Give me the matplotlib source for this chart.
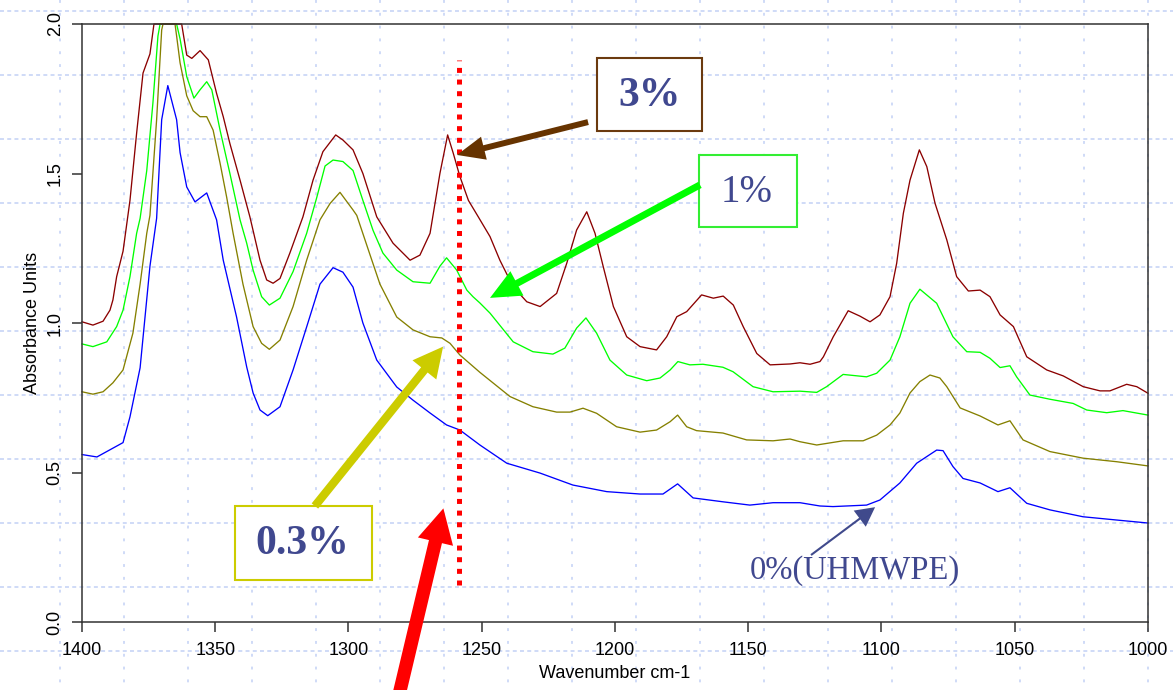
import matplotlib
matplotlib.use("Agg")
import matplotlib.pyplot as plt
from matplotlib.patches import Rectangle, FancyArrowPatch
import numpy as np

# ---------------- spectra (wavenumber cm-1, absorbance) ----------------
wn_0 = [1400, 1394.4, 1384.6, 1382.0, 1378.2, 1374.5, 1372.0, 1370.1, 1367.8,
        1364.5, 1363.2, 1360.7, 1357.6, 1353.2, 1349.5, 1347.0, 1342.0, 1338.2,
        1335.8, 1333.2, 1330.3, 1325.7, 1320.8, 1315.7, 1310.7, 1305.8, 1302.1,
        1298.3, 1294.6, 1289.4, 1281.9, 1275.8, 1269.4, 1263.2, 1258.2, 1250.7,
        1240.6, 1228.1, 1215.8, 1203.1, 1190.6, 1182.0, 1176.5, 1170.7, 1159.5,
        1149.4, 1140.7, 1130.6, 1123.1, 1118.2, 1105.6, 1100.6, 1093.1, 1086.8,
        1079.3, 1076.9, 1073.2, 1069.4, 1063.0, 1056.3, 1051.8, 1045.5, 1036.8,
        1024.4, 1011.7, 1000]
abs_0 = [0.56, 0.552, 0.60, 0.686, 0.85, 1.19, 1.35, 1.68, 1.794,
         1.68, 1.57, 1.455, 1.405, 1.435, 1.345, 1.21, 1.02, 0.853,
         0.766, 0.709, 0.69, 0.72, 0.843, 0.987, 1.13, 1.185, 1.17,
         1.12, 1.0, 0.876, 0.786, 0.742, 0.699, 0.659, 0.642, 0.592,
         0.531, 0.498, 0.458, 0.436, 0.428, 0.428, 0.462, 0.415, 0.402,
         0.391, 0.399, 0.399, 0.388, 0.386, 0.391, 0.408, 0.465, 0.531,
         0.575, 0.573, 0.52, 0.48, 0.465, 0.436, 0.449, 0.397, 0.375,
         0.352, 0.341, 0.331]

wn_03 = [1400, 1395.9, 1392.1, 1388.4, 1384.6, 1380.9, 1378.2, 1375.7, 1374.5,
         1372.0, 1370.1, 1369.6, 1365.1, 1364.5, 1363.2, 1360.7, 1358.3, 1355.7,
         1353.2, 1350.8, 1348.2, 1345.7, 1343.3, 1339.6, 1335.8, 1332.6, 1329.7,
         1325.7, 1320.8, 1315.7, 1310.7, 1306.9, 1303.2, 1298.3, 1296.9, 1292.0,
         1288.2, 1281.9, 1275.8, 1269.4, 1265.0, 1261.9, 1258.2, 1250.7, 1239.4,
         1230.8, 1221.9, 1216.9, 1212.0, 1206.9, 1199.4, 1190.6, 1184.4, 1179.3,
         1176.5, 1173.1, 1169.4, 1159.5, 1150.6, 1140.7, 1134.3, 1130.6, 1124.3,
         1114.4, 1106.9, 1101.8, 1096.8, 1093.1, 1089.3, 1085.6, 1081.8, 1078.1,
         1075.5, 1070.5, 1063.0, 1056.3, 1051.8, 1046.9, 1036.8, 1024.4, 1011.7,
         1000]
abs_03 = [0.77, 0.762, 0.77, 0.80, 0.843, 0.966, 1.13, 1.30, 1.36,
          1.68, 1.98, 2.0, 2.0, 1.96, 1.87, 1.76, 1.71, 1.69,
          1.69, 1.645, 1.535, 1.42, 1.30, 1.13, 0.988, 0.932, 0.912,
          0.943, 1.055, 1.21, 1.345, 1.40, 1.437, 1.378, 1.36, 1.23,
          1.13, 1.02, 0.977, 0.954, 0.95, 0.932, 0.893, 0.835, 0.754,
          0.72, 0.702, 0.702, 0.715, 0.698, 0.653, 0.635, 0.642, 0.67,
          0.692, 0.653, 0.64, 0.632, 0.609, 0.606, 0.612, 0.603, 0.592,
          0.606, 0.606, 0.625, 0.659, 0.699, 0.766, 0.804, 0.826, 0.816,
          0.787, 0.716, 0.689, 0.659, 0.673, 0.609, 0.57, 0.548, 0.536,
          0.522]

wn_1 = [1400, 1395.9, 1390.7, 1387.0, 1384.6, 1382.0, 1379.5, 1378.2, 1375.7,
        1373.4, 1371.5, 1370.7, 1364.5, 1363.2, 1360.7, 1358.0, 1355.7, 1353.2,
        1351.3, 1348.2, 1344.5, 1340.7, 1338.2, 1335.8, 1332.6, 1329.7, 1325.7,
        1320.8, 1315.7, 1311.9, 1308.8, 1305.8, 1302.1, 1298.3, 1294.6,
        1290.8, 1287.1, 1281.9, 1275.8, 1269.4, 1265.7, 1263.2, 1259.4, 1255.6,
        1253.3, 1250.7, 1246.9, 1238.2, 1230.8, 1223.3, 1218.8, 1214.4, 1210.9,
        1206.9, 1201.9, 1195.6, 1188.1, 1183.1, 1179.3, 1176.4, 1171.9, 1167.0,
        1159.5, 1155.7, 1148.2, 1140.7, 1130.6, 1124.3, 1120.6, 1114.4, 1105.6,
        1101.8, 1096.8, 1093.1, 1089.3, 1085.6, 1079.3, 1073.2, 1068.0, 1063.0,
        1059.3, 1055.5, 1051.8, 1049.3, 1044.3, 1036.8, 1028.1, 1023.0, 1015.5,
        1009.4, 1000]
abs_1 = [0.93, 0.921, 0.937, 0.988, 1.043, 1.155, 1.30, 1.35, 1.51,
         1.735, 1.96, 2.0, 2.0, 1.95, 1.824, 1.752, 1.78, 1.807,
         1.78, 1.645, 1.50, 1.345, 1.267, 1.177, 1.088, 1.06, 1.083,
         1.172, 1.30, 1.42, 1.525, 1.545, 1.54, 1.51, 1.41,
         1.31, 1.234, 1.177, 1.138, 1.133, 1.19, 1.218, 1.177, 1.11,
         1.088, 1.067, 1.033, 0.937, 0.904, 0.896, 0.916, 0.983, 1.017,
         0.966, 0.876, 0.826, 0.807, 0.816, 0.843, 0.871, 0.86, 0.862,
         0.852, 0.837, 0.787, 0.77, 0.772, 0.768, 0.787, 0.828, 0.82,
         0.832, 0.876, 0.954, 1.066, 1.113, 1.066, 0.954, 0.904, 0.902,
         0.882, 0.851, 0.857, 0.82, 0.759, 0.745, 0.731, 0.709, 0.70,
         0.707, 0.692]

wn_3 = [1400, 1395.9, 1392.1, 1389.5, 1388.4, 1387.0, 1384.6, 1382.0, 1379.5,
        1377.1, 1374.5, 1373.0, 1362.6, 1360.7, 1358.8, 1355.7, 1352.6, 1349.5,
        1347.0, 1344.5, 1340.7, 1337.0, 1333.2, 1330.7, 1328.3, 1325.7, 1322.0,
        1317.1, 1313.3, 1309.6, 1304.8, 1302.1, 1298.3, 1294.6, 1289.4, 1283.3,
        1276.9, 1273.2, 1269.4, 1265.7, 1262.8, 1260.7, 1258.2, 1255.0, 1251.3,
        1246.9, 1243.2, 1238.2, 1233.1, 1228.1, 1221.9, 1218.1, 1214.4, 1210.6,
        1207.5, 1204.4, 1200.6, 1195.6, 1190.6, 1184.4, 1180.6, 1176.8, 1173.1,
        1167.5, 1163.1, 1159.4, 1155.6, 1151.9, 1146.8, 1141.8, 1134.3, 1130.6,
        1126.8, 1123.1, 1121.8, 1118.1, 1112.5, 1108.1, 1104.3, 1100.6, 1096.8,
        1094.3, 1091.8, 1089.3, 1085.8, 1083.0, 1079.9, 1075.5, 1071.8, 1067.4,
        1063.0, 1059.3, 1055.5, 1050.5, 1045.5, 1038.0, 1031.8, 1024.3, 1018.0,
        1014.3, 1008.0, 1004.2, 1000]
abs_3 = [1.004, 0.993, 1.006, 1.043, 1.077, 1.155, 1.24, 1.41, 1.635,
         1.836, 1.90, 2.0, 2.0, 1.896, 1.885, 1.911, 1.88, 1.768,
         1.69, 1.60, 1.478, 1.355, 1.21, 1.144, 1.133, 1.149, 1.234,
         1.355, 1.478, 1.573, 1.629, 1.612, 1.579, 1.50, 1.355, 1.267,
         1.21, 1.227, 1.30, 1.50, 1.629, 1.568, 1.49, 1.41, 1.355,
         1.289, 1.21, 1.121, 1.071, 1.055, 1.099, 1.20, 1.311, 1.372,
         1.30, 1.188, 1.055, 0.954, 0.921, 0.91, 0.954, 1.021, 1.038,
         1.094, 1.083, 1.09, 1.06, 0.988, 0.898, 0.86, 0.863, 0.867,
         0.862, 0.871, 0.887, 0.954, 1.041, 1.023, 1.004, 1.027, 1.088,
         1.20, 1.367, 1.478, 1.579, 1.523, 1.40, 1.278, 1.155, 1.107,
         1.11, 1.088, 1.027, 0.988, 0.887, 0.843, 0.823, 0.787, 0.773,
         0.773, 0.795, 0.787, 0.765]

x_ticks = [1400, 1350, 1300, 1250, 1200, 1150, 1100, 1050, 1000]
y_ticks = [0.0, 0.5, 1.0, 1.5, 2.0]
marker_wn = 1258.7

W, H = 1173, 690
fig = plt.figure(figsize=(W / 100, H / 100), dpi=100)
fig.patch.set_facecolor("white")

# dotted layout grid behind everything
bg = fig.add_axes([0, 0, 1, 1], zorder=0)
bg.set_xlim(0, W)
bg.set_ylim(H, 0)
bg.axis("off")
grid_c = "#CCD8F7"
for gx in np.arange(60, W, 64):
    bg.plot([gx, gx], [0, H], color=grid_c, lw=1.3, linestyle=(0, (1.6, 5.5)),
            solid_capstyle="butt")
for gy in np.arange(11, H, 64):
    bg.plot([0, W], [gy, gy], color=grid_c, lw=1.3, linestyle=(0, (2.2, 1.8)),
            solid_capstyle="butt")

ax = fig.add_axes([82 / W, 1 - 622 / H, (1148 - 82) / W, (622 - 24) / H], zorder=1)
ax.patch.set_alpha(0)
ax.set_xlim(1400, 1000)
ax.set_ylim(0, 2.0)

line_kw = dict(lw=0.95, clip_on=False, solid_joinstyle="round")
ax.plot(wn_0, abs_0, color="#0000FF", **line_kw)
ax.plot(wn_03, abs_03, color="#858000", **line_kw)
ax.plot(wn_1, abs_1, color="#00FF00", **line_kw)
ax.plot(wn_3, abs_3, color="#8B0000", **line_kw)

for s in ax.spines.values():
    s.set_color("#333333")
    s.set_linewidth(1.1)

sans = "Liberation Sans"
ax.set_xticks(x_ticks)
ax.set_xticklabels([str(v) for v in x_ticks], family=sans, fontsize=13)
ax.set_yticks(y_ticks)
ax.set_yticklabels([f"{v:.1f}" for v in y_ticks], family=sans, fontsize=13,
                   rotation=90, va="center")
ax.tick_params(axis="x", direction="out", length=7.2, width=1.1, pad=7.5,
               color="#333333")
ax.tick_params(axis="y", direction="out", length=7.2, width=1.1, pad=6,
               color="#333333")
ax.set_xlabel("Wavenumber cm-1", family=sans, fontsize=13, labelpad=4)
ax.set_ylabel("Absorbance Units", family=sans, fontsize=13, labelpad=4)

# marker line
ax.plot([marker_wn, marker_wn], [0.124, 1.880], color="#FF0000", lw=3.6,
        linestyle=(0, (1.0, 1.33)), solid_capstyle="butt",
        dash_capstyle="butt", zorder=5)

serif = "Liberation Serif"
txt_c = "#40488F"


def arrow(tail, tip, color, tw, hw, hl):
    p = FancyArrowPatch(tail, tip,
                        arrowstyle=f"simple,head_length={hl},head_width={hw},tail_width={tw}",
                        mutation_scale=1, shrinkA=0, shrinkB=0,
                        color=color, lw=0, clip_on=False, zorder=6)
    ax.add_patch(p)


def box(x0, y0, w, h, color):
    ax.add_patch(Rectangle((x0, y0), w, h, fill=True, facecolor="white",
                           edgecolor=color, lw=1.5, clip_on=False, zorder=6))


# 3 %
box(1167.4, 1.642, 39.4, 0.244, "#6B3A0F")
ax.text(1187.1, 1.759, "3%", family=serif, fontsize=30, fontweight="bold",
        color=txt_c, ha="center", va="center", zorder=7)
arrow((1210.1, 1.672), (1259.3, 1.562), "#663300", 4.3, 17, 20)

# 1 %
box(1131.7, 1.321, 36.8, 0.241, "#33EE33")
ax.text(1150.5, 1.438, "1%", family=serif, fontsize=28,
        color=txt_c, ha="center", va="center", zorder=7)
arrow((1168.1, 1.462), (1246.9, 1.084), "#00FF00", 5.0, 20, 22)

# 0.3 %
box(1291.2, 0.140, 51.4, 0.248, "#CCCC00")
ax.text(1317.3, 0.261, "0.3%", family=serif, fontsize=30, fontweight="bold",
        color=txt_c, ha="center", va="center", zorder=7)
arrow((1312.6, 0.388), (1264.5, 0.921), "#CCCC00", 6.0, 22, 21.5)

# pointer to the marker line from below
arrow((1281.05, -0.244), (1264.4, 0.380), "#FF0000", 9.6, 26, 24.6)

# 0 %
ax.text(1149.35, 0.144, "0%(UHMWPE)", family=serif, fontsize=23.5,
        color=txt_c, ha="left", va="baseline", zorder=7)
arrow((1126.45, 0.224), (1102.4, 0.384), "#404A8C", 1.5, 14.5, 13.8)

fig.savefig("out.png", dpi=100, facecolor="white")
